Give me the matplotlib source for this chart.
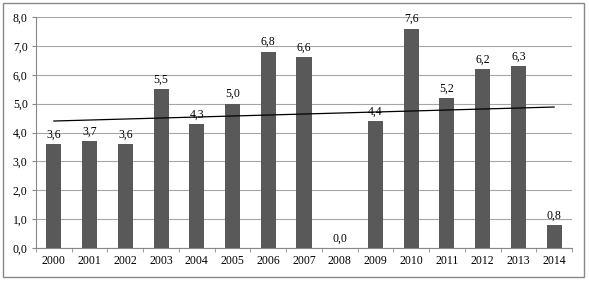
import matplotlib.pyplot as plt
from matplotlib.patches import Rectangle
import numpy as np

years = ['2000', '2001', '2002', '2003', '2004', '2005', '2006', '2007',
         '2008', '2009', '2010', '2011', '2012', '2013', '2014']
values = [3.6, 3.7, 3.6, 5.5, 4.3, 5.0, 6.8, 6.6, 0.0, 4.4, 7.6, 5.2, 6.2, 6.3, 0.8]
yticks = [0, 1, 2, 3, 4, 5, 6, 7, 8]

plt.rcParams['font.family'] = ['Liberation Serif', 'DejaVu Serif']
plt.rcParams['font.size'] = 8.5

W, H = 589, 282
fig = plt.figure(figsize=(W / 100, H / 100), dpi=100)
ax = fig.add_axes([36 / W, (H - 248) / H, (572 - 36) / W, (248 - 17) / H])

x = np.arange(len(years))
ax.bar(x, values, width=0.42, color='#595959', zorder=3)
for xi, v in zip(x, values):
    ax.text(xi, v + 0.12, f'{v:.1f}'.replace('.', ','), ha='center', va='bottom',
            fontsize=8.5, zorder=4)

# linear trend
k, b = np.polyfit(x, values, 1)
ax.plot(x, k * x + b, color='black', lw=0.9, zorder=5)

ax.set_xlim(-0.5, len(years) - 0.5)
ax.set_ylim(0, 8)
ax.set_yticks(yticks)
ax.set_yticklabels([f'{t:.1f}'.replace('.', ',') for t in yticks])
ax.set_xticks(x)
ax.set_xticklabels(years)
ax.set_xticks(np.arange(-0.5, len(years), 1), minor=True)
ax.tick_params(axis='x', which='major', length=0, pad=5)
ax.tick_params(axis='x', which='minor', length=3, color='#888888', direction='out')
ax.tick_params(axis='y', length=3, color='#888888', pad=3)
ax.grid(axis='y', color='#a6a6a6', lw=0.8, zorder=0)
for s in ['top', 'right']:
    ax.spines[s].set_visible(False)
ax.spines['left'].set_color('#888888')
ax.spines['bottom'].set_color('#888888')

fig.patches.append(Rectangle((3 / W, 5 / H), 581 / W, 274 / H, transform=fig.transFigure,
                             fill=False, edgecolor='#888888', lw=1))

fig.savefig('out.png', dpi=100)
